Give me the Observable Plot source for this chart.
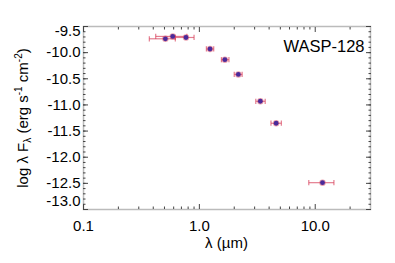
<!DOCTYPE html>
<html><head><meta charset="utf-8">
<script src="https://cdn.jsdelivr.net/npm/d3@7"></script>
<script src="https://cdn.jsdelivr.net/npm/@observablehq/plot@0.6"></script>
<style>body{margin:0;background:#fff}</style>
</head><body><div id="chart"></div>
<script>
// Data
const wavelength = [0.509, 0.589, 0.767, 1.236, 1.66, 2.17, 3.36, 4.6, 11.56];
const logFlux    = [-9.735, -9.69, -9.71, -9.93, -10.135, -10.417, -10.93, -11.35, -12.487];
const waveLo     = [0.37, 0.42, 0.62, 1.15, 1.55, 2.0, 3.07, 4.15, 8.8];
const waveHi     = [0.62, 0.78, 0.90, 1.33, 1.80, 2.34, 3.70, 5.10, 14.5];
const starName   = "WASP-128";
const yMajor = [-13, -12.5, -12, -11.5, -11, -10.5, -10, -9.5];
const yMinor = d3.range(-130, -94).map(d => d / 10);
const xMajor = [0.1, 1, 10];
const xMinor = [0.2,0.3,0.4,0.5,0.6,0.7,0.8,0.9,2,3,4,5,6,7,8,9,20];

const rows = wavelength.map((w, i) => ({w, f: logFlux[i], lo: waveLo[i], hi: waveHi[i]}));
const font = "'Liberation Sans', Arial, Helvetica, sans-serif";
const tickColor = "#444";
const errColor = "#d9465f";
const fmt = d => d.toFixed(1);

const plot = Plot.plot({
  width: 395, height: 263,
  marginLeft: 83, marginRight: 25, marginTop: 26, marginBottom: 54,
  style: {fontFamily: font, fontSize: "15px", background: "white", color: "#000"},
  x: {type: "log", domain: [0.1, 30]},
  y: {domain: [-13, -9.5]},
  marks: [
    Plot.frame({stroke: "#bbb", strokeWidth: 1.5}),
    // inward ticks on all four sides
    Plot.axisY(yMinor, {anchor: "left", tickSize: -2.5, text: null, stroke: tickColor, label: null}),
    Plot.axisY(yMajor, {anchor: "left", tickSize: -5, text: null, stroke: tickColor, label: null}),
    Plot.axisY(yMinor, {anchor: "right", tickSize: -2.5, text: null, stroke: tickColor, label: null}),
    Plot.axisY(yMajor, {anchor: "right", tickSize: -5, text: null, stroke: tickColor, label: null}),
    Plot.axisX(xMinor, {anchor: "bottom", tickSize: -2.5, text: null, stroke: tickColor, label: null}),
    Plot.axisX(xMajor, {anchor: "bottom", tickSize: -5, text: null, stroke: tickColor, label: null}),
    Plot.axisX(xMinor, {anchor: "top", tickSize: -2.5, text: null, stroke: tickColor, label: null}),
    Plot.axisX(xMajor, {anchor: "top", tickSize: -5, text: null, stroke: tickColor, label: null}),
    // tick labels
    Plot.axisY(yMajor.slice(1, -1), {anchor: "left", tickSize: 0, tickPadding: 3, tickFormat: fmt, label: null, fill: "#000"}),
    Plot.axisY([-9.5], {anchor: "left", tickSize: 0, tickPadding: 3, tickFormat: fmt, label: null, dy: 5, fill: "#000"}),
    Plot.axisY([-13], {anchor: "left", tickSize: 0, tickPadding: 3, tickFormat: fmt, label: null, dy: -8, fill: "#000"}),
    Plot.axisX(xMajor, {anchor: "bottom", tickSize: 0, tickPadding: 11, tickFormat: fmt, label: null, fill: "#000"}),
    // error bars
    Plot.link(rows, {x1: "lo", x2: "hi", y1: "f", y2: "f", stroke: errColor, strokeOpacity: 0.7, strokeWidth: 1.2}),
    Plot.link(rows, {x1: "lo", x2: "lo", y1: d => d.f - 0.05, y2: d => d.f + 0.05, stroke: errColor, strokeOpacity: 0.7, strokeWidth: 1.2}),
    Plot.link(rows, {x1: "hi", x2: "hi", y1: d => d.f - 0.05, y2: d => d.f + 0.05, stroke: errColor, strokeOpacity: 0.7, strokeWidth: 1.2}),
    // points
    Plot.dot(rows, {x: "w", y: "f", r: 3.2, fill: errColor, fillOpacity: 0.5}),
    Plot.dot(rows, {x: "w", y: "f", r: 2.4, fill: "#4a2a9a"}),
    Plot.text([starName], {frameAnchor: "top-right", dx: -6, dy: 14, fontSize: 16.5, textAnchor: "end", fill: "#000"})
  ]
});

const svg = d3.select(plot);
svg.append("text")
  .attr("x", 226.5).attr("y", 248)
  .attr("text-anchor", "middle")
  .attr("font-family", font).attr("font-size", 15).attr("fill", "#000")
  .text("λ (µm)");

const yl = svg.append("text")
  .attr("transform", "translate(28,118) rotate(-90)")
  .attr("text-anchor", "middle")
  .attr("font-family", font).attr("font-size", 15).attr("fill", "#000");
yl.append("tspan").text("log λ F");
yl.append("tspan").attr("font-size", 10).attr("dy", 3).text("λ");
yl.append("tspan").attr("dy", -3).text(" (erg s");
yl.append("tspan").attr("font-size", 10).attr("dy", -6).text("-1");
yl.append("tspan").attr("dy", 6).text(" cm");
yl.append("tspan").attr("font-size", 10).attr("dy", -6).text("-2");
yl.append("tspan").attr("dy", 6).text(")");

document.getElementById("chart").appendChild(plot);
</script>
</body></html>
